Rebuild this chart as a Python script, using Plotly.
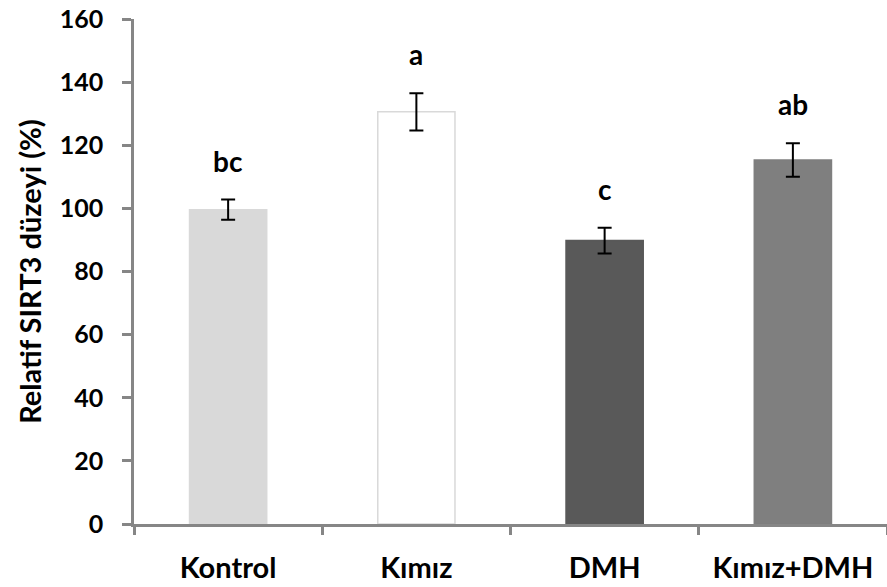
import plotly.graph_objects as go

categories = ["Kontrol", "Kımız", "DMH", "Kımız+DMH"]
values = [99.6, 130.6, 89.8, 115.3]
errors = [3.2, 5.9, 4.1, 5.3]
letters = ["bc", "a", "c", "ab"]
colors = ["#d9d9d9", "#ffffff", "#595959", "#7f7f7f"]
line_colors = ["#d9d9d9", "#d9d9d9", "#595959", "#7f7f7f"]
y_ticks = [0, 20, 40, 60, 80, 100, 120, 140, 160]

FONT = "Lato"

fig = go.Figure()
fig.add_trace(go.Bar(
    x=categories, y=values,
    marker=dict(color=colors, line=dict(color=line_colors, width=1.5)),
    error_y=dict(type="data", array=errors, visible=True, color="#000000",
                 thickness=2, width=7),
    width=0.41,
    showlegend=False,
))

for c, v, e, t in zip(categories, values, errors, letters):
    fig.add_annotation(x=c, y=v + e, text=f"<b>{t}</b>", showarrow=False,
                       yanchor="bottom", yshift=20,
                       font=dict(family=FONT, size=28, color="#000000"))

fig.update_layout(
    width=887, height=587,
    margin=dict(l=134, r=0, t=19, b=63),
    plot_bgcolor="#ffffff", paper_bgcolor="#ffffff",
    font=dict(family=FONT, color="#000000"),
)
fig.update_xaxes(
    automargin=False,
    showline=True, linecolor="#868686", linewidth=2.5,
    ticks="outside", ticklen=8, tickwidth=2.5, tickcolor="#868686",
    tickson="boundaries", showgrid=False,
    tickfont=dict(family=FONT, size=29, color="#000000", weight="bold"),
    ticklabelstandoff=16,
)
fig.update_yaxes(
    automargin=False,
    range=[0, 160], tickvals=y_ticks,
    showline=True, linecolor="#868686", linewidth=2.5,
    ticks="outside", ticklen=9, tickwidth=2.5, tickcolor="#868686",
    showgrid=False, zeroline=False,
    tickfont=dict(family=FONT, size=25, color="#000000", weight="bold"),
    ticklabelstandoff=14,
    title=dict(text="<b>Relatif SIRT3 düzeyi (%)</b>",
               font=dict(family=FONT, size=29, color="#000000"), standoff=10),
)

fig.write_html(
    "out.html",
    config={"displayModeBar": False},
    post_script="document.body.style.margin='0';document.body.style.overflow='hidden';",
)
